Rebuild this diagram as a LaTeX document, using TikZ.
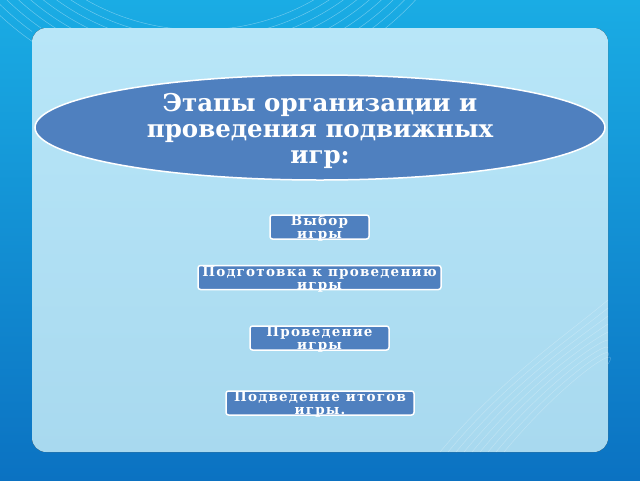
\documentclass[tikz,border=0pt]{standalone}
\usepackage{fontspec}
\setmainfont{DejaVu Serif}
\newfontfamily\stagefont[LetterSpace=9]{DejaVu Serif}
\usetikzlibrary{shapes.geometric}
\definecolor{frametop}{HTML}{1AACE4}
\definecolor{framelow}{HTML}{0B72C2}
\definecolor{paneltop}{HTML}{B8E6F8}
\definecolor{panellow}{HTML}{A8D9EF}
\definecolor{stageblue}{HTML}{4F80BF}
\tikzset{
  stage/.style={draw=white, line width=1.5pt, fill=stageblue, rounded corners=2.5pt,
    minimum height=24pt, inner sep=0pt},
  stagetext/.style={text=white, inner sep=0pt, align=center,
    font=\stagefont\bfseries\fontsize{13.5}{13}\selectfont},
  swirl/.style={white, opacity=0.35, line width=0.5pt}
}
\begin{document}
\begin{tikzpicture}[x=1pt,y=-1pt]
\useasboundingbox (0,0) rectangle (640,480);
% background frame
\shade[top color=frametop, bottom color=framelow] (0,0) rectangle (640,480);
\begin{scope}
  \clip (0,0) rectangle (640,28) (0,0) rectangle (32,480);
  \foreach \r in {230,238,...,300}
    \draw[swirl] (200,-200) circle[radius=\r];
\end{scope}
% light panel
\fill[rounded corners=14pt, top color=paneltop, bottom color=panellow] (32,28) rectangle (608,452);
\foreach \k in {0,8,...,64}
  \draw[swirl, opacity=0.25] (440+\k,452) .. controls (500+\k,380) and (560+\k,340) .. (608,300+\k);
% title ellipse
\node[ellipse, draw=white, line width=1.5pt, fill=stageblue, inner sep=0pt,
  minimum width=570pt, minimum height=105pt] (title) at (320,127.5) {};
\node[text=white, align=center, inner sep=0pt,
  font=\bfseries\fontsize{24.5}{26}\selectfont] (titletext) at (320,131)
  {Этапы организации и\\проведения подвижных\\игр:};
% stages
\node[stage, minimum width=99pt] (choice) at (319.5,227) {};
\node[stagetext] (choicetext) at (319.5,228.5) {Выбор\\игры};
\node[stage, minimum width=243pt] (prep) at (319.5,277.5) {};
\node[stagetext] (preptext) at (319.5,279) {Подготовка к проведению\\игры};
\node[stage, minimum width=139pt] (play) at (319.5,338) {};
\node[stagetext] (playtext) at (319.5,339.5) {Проведение\\игры};
\node[stage, minimum width=188pt] (result) at (320,403) {};
\node[stagetext] (resulttext) at (320,404.5) {Подведение итогов\\игры.};
\end{tikzpicture}
\end{document}
